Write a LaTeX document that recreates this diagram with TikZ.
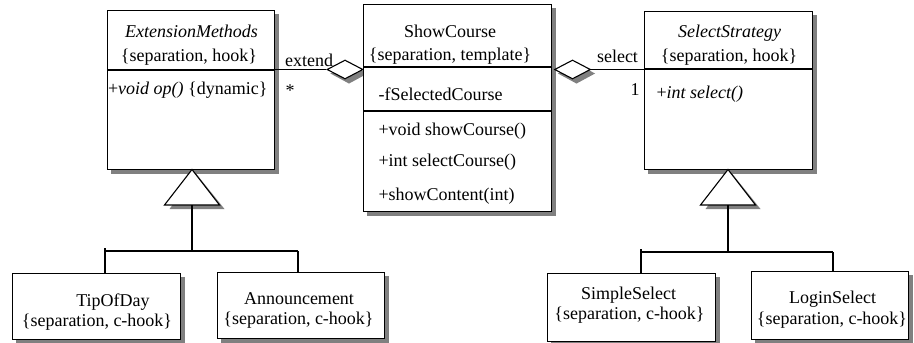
\documentclass[tikz,border=0pt]{standalone}
\usepackage{fontspec}
\setmainfont{Liberation Serif}
\usetikzlibrary{shapes.geometric,backgrounds}
\begin{document}
\begin{tikzpicture}[x=1pt,y=-1pt,line width=1.1pt,
  cls/.style={draw,fill=white,rectangle,inner sep=0pt,anchor=north west},
  dia/.style={draw,fill=white,diamond,inner sep=0pt,minimum width=36pt,minimum height=19pt,aspect=1.9},
  shadowfill/.style={fill=black!50},
  txt/.style={inner sep=0pt,anchor=base,font=\fontsize{18}{20}\selectfont},
  ltxt/.style={txt,anchor=base west}]
\useasboundingbox (0,0) rectangle (914,343);
% class boxes
\node[cls,minimum width=167pt,minimum height=159pt] (ext) at (107,10) {};
\node[cls,minimum width=188pt,minimum height=207pt] (show) at (363,4) {};
\node[cls,minimum width=168pt,minimum height=158pt] (sel) at (644,11) {};
\node[cls,minimum width=168pt,minimum height=66pt] (tip) at (12,273) {};
\node[cls,minimum width=167pt,minimum height=66pt] (ann) at (217,272) {};
\node[cls,minimum width=168pt,minimum height=68pt] (simple) at (547,273) {};
\node[cls,minimum width=157pt,minimum height=68pt] (login) at (751,271) {};
% aggregation diamonds
\node[dia] (dl) at (345,69.5) {};
\node[dia] (dr) at (572.5,69.5) {};
\begin{scope}[on background layer]
  \foreach \n in {ext,show,sel,tip,ann,simple,login}{
    \fill[shadowfill] ([shift={(4,4)}]\n.north west) rectangle ([shift={(4,4)}]\n.south east);
  }
  \foreach \n in {dl,dr}{
    \fill[shadowfill] ([shift={(4,4)}]\n.west) -- ([shift={(4,4)}]\n.north) -- ([shift={(4,4)}]\n.east) -- ([shift={(4,4)}]\n.south) -- cycle;
  }
\end{scope}
% dividers
\draw (ext.west |- 0,70) -- (ext.east |- 0,70);
\draw (show.west |- 0,67) -- (show.east |- 0,67);
\draw (show.west |- 0,111) -- (show.east |- 0,111);
\draw (sel.west |- 0,69) -- (sel.east |- 0,69);
% texts
\node[txt] (extT) at (191.5,37) {\textit{ExtensionMethods}};
\node[txt] (extS) at (189,61) {\{separation, hook\}};
\node[ltxt] (extM) at (107.5,94) {+\textit{void op()} \{dynamic\}};
\node[txt] (showT) at (450,37.5) {ShowCourse};
\node[txt] (showS) at (450,60) {\{separation, template\}};
\node[ltxt] (showA) at (378,100.5) {-fSelectedCourse};
\node[ltxt] (showM1) at (378,135) {+void showCourse()};
\node[ltxt] (showM2) at (378,166.5) {+int selectCourse()};
\node[ltxt] (showM3) at (378,200) {+showContent(int)};
\node[txt] (selT) at (729.5,37) {\textit{SelectStrategy}};
\node[txt] (selS) at (729,61) {\{separation, hook\}};
\node[ltxt] (selM) at (656,98) {+\textit{int select()}};
\node[txt] (tipT) at (113,306.5) {TipOfDay};
\node[txt] (tipS) at (97,326.5) {\{separation, c-hook\}};
\node[txt] (annT) at (299,304) {Announcement};
\node[txt] (annS) at (298.5,324) {\{separation, c-hook\}};
\node[txt] (simT) at (628.5,299) {SimpleSelect};
\node[txt] (simS) at (629.5,319) {\{separation, c-hook\}};
\node[txt] (logT) at (832.5,303) {LoginSelect};
\node[txt] (logS) at (832,324) {\{separation, c-hook\}};
% aggregation lines and labels
\draw (dl.west) -- (dl.west -| ext.east);
\draw (dr.east) -- (dr.east -| sel.west);
\node[txt] (extL) at (309,66) {extend};
\node[txt] (star) at (290,96) {*};
\node[txt] (selL) at (617.5,62) {select};
\node[txt] (one) at (635,95.5) {1};
% generalisations
\coordinate (ta) at (192,169.5);
\coordinate (tb) at (192,205);
\fill[shadowfill] (196,173.5) -- (224.5,209) -- (169.5,209) -- cycle;
\filldraw[fill=white] (ta) -- (219.5,205) -- (164.5,205) -- cycle;
\coordinate (tj) at (192,251);
\draw (tb) -- (tj);
\draw (105,251) -- (298,251);
\draw (105,248) -- (tip.north -| 105,0);
\draw (298,251) -- (ann.north -| 298,0);
\coordinate (sa) at (728,169.5);
\coordinate (sb) at (728,205);
\fill[shadowfill] (732,173.5) -- (760.5,209) -- (705.5,209) -- cycle;
\filldraw[fill=white] (sa) -- (755.5,205) -- (700.5,205) -- cycle;
\coordinate (sj) at (728,252);
\draw (sb) -- (sj);
\draw (641,252) -- (833,252);
\draw (641,249) -- (simple.north -| 641,0);
\draw (833,252) -- (login.north -| 833,0);
\end{tikzpicture}
\end{document}
